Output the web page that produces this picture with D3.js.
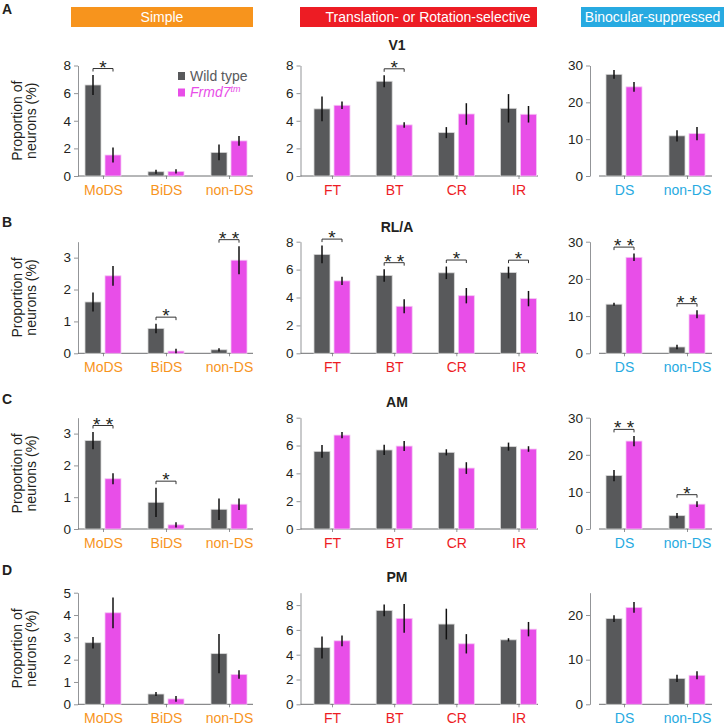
<!DOCTYPE html>
<html>
<head>
<meta charset="utf-8">
<script src="https://cdn.jsdelivr.net/npm/d3@7"></script>
<style>
  body { margin: 0; background: #fff; }
  svg text { font-family: "Liberation Sans", Arial, Helvetica, sans-serif; }
</style>
</head>
<body>
<div id="chart"></div>
<script>
// Categories
const simpleCats = ["MoDS", "BiDS", "non-DS"];
const transCats = ["FT", "BT", "CR", "IR"];
const binoCats = ["DS", "non-DS"];
const areas = ["V1", "RL/A", "AM", "PM"];
const letters = ["A", "B", "C", "D"];
const headers = ["Simple", "Translation- or Rotation-selective", "Binocular-suppressed"];

// Simple (rows: V1, RL/A, AM, PM)
const simpleWT = [[6.59, 0.31, 1.71], [1.61, 0.78, 0.11], [2.78, 0.84, 0.62], [2.76, 0.46, 2.27]];
const simpleWTErr = [[0.72, 0.14, 0.57], [0.3, 0.15, 0.05], [0.27, 0.46, 0.34], [0.26, 0.09, 0.88]];
const simpleMut = [[1.52, 0.33, 2.54], [2.43, 0.07, 2.92], [1.58, 0.13, 0.78], [4.1, 0.24, 1.34]];
const simpleMutErr = [[0.55, 0.15, 0.35], [0.31, 0.07, 0.44], [0.17, 0.08, 0.18], [0.69, 0.13, 0.19]];
const simpleSig = [["*", "", ""], ["", "*", "**"], ["**", "*", ""], ["", "", ""]];
const simpleMax = [8, 3.5, 3.5, 5];
const simpleTicks = [[0, 2, 4, 6, 8], [0, 1, 2, 3], [0, 1, 2, 3], [0, 1, 2, 3, 4, 5]];

// Translation- or Rotation-selective
const transWT = [[4.86, 6.86, 3.14, 4.9], [7.09, 5.58, 5.77, 5.79], [5.58, 5.68, 5.51, 5.92], [4.58, 7.57, 6.47, 5.2]];
const transWTErr = [[0.9, 0.43, 0.4, 1.03], [0.63, 0.45, 0.45, 0.42], [0.45, 0.37, 0.22, 0.29], [0.88, 0.47, 1.24, 0.13]];
const transMut = [[5.12, 3.7, 4.49, 4.47], [5.19, 3.37, 4.13, 3.92], [6.75, 5.96, 4.38, 5.75], [5.12, 6.93, 4.88, 6.06]];
const transMutErr = [[0.27, 0.2, 0.78, 0.6], [0.3, 0.5, 0.55, 0.55], [0.22, 0.36, 0.42, 0.2], [0.43, 1.15, 0.78, 0.58]];
const transSig = [["", "*", "", ""], ["*", "**", "*", "*"], ["", "", "", ""], ["", "", "", ""]];
const transMax = [8, 8, 8, 9];
const transTicks = [[0, 2, 4, 6, 8], [0, 2, 4, 6, 8], [0, 2, 4, 6, 8], [0, 2, 4, 6, 8]];

// Binocular-suppressed
const binoWT = [[27.6, 10.9], [13.2, 1.7], [14.4, 3.6], [19.2, 5.8]];
const binoWTErr = [[1.2, 1.5], [0.4, 0.6], [1.5, 0.7], [0.75, 0.8]];
const binoMut = [[24.2, 11.5], [25.8, 10.5], [23.7, 6.7], [21.7, 6.5]];
const binoMutErr = [[1.3, 1.8], [1.0, 1.1], [1.4, 0.8], [1.2, 0.9]];
const binoSig = [["", ""], ["**", "**"], ["**", "*"], ["", ""]];
const binoMax = [30, 30, 30, 25];
const binoTicks = [[0, 10, 20, 30], [0, 10, 20, 30], [0, 10, 20, 30], [0, 10, 20]];

/* -- Layout -- */
const width = 726, height = 728;
const wtColor = "#58595b";
const mutColor = "#e84ee8";
const axisColor = "#939598";
const textColor = "#231f20";
const barW = 16, barGap = 2;

const rowTop = [65.5, 241.7, 417.7, 592.7];
const rowBottom = [176, 353.3, 529, 704.3];
const titleY = [50, 232, 407, 582];
const letterY = [13.5, 227, 404, 575];

const cols = [
  {cats: simpleCats, wt: simpleWT, wtErr: simpleWTErr, mut: simpleMut, mutErr: simpleMutErr,
   sig: simpleSig, max: simpleMax, ticks: simpleTicks, color: "#f7941d",
   axisX: 78, baseX0: 78, baseX1: 253, c0: 103, c1: 229, hx0: 71, hx1: 253, textX: 162},
  {cats: transCats, wt: transWT, wtErr: transWTErr, mut: transMut, mutErr: transMutErr,
   sig: transSig, max: transMax, ticks: transTicks, color: "#ed1c24",
   axisX: 300.5, baseX0: 300.5, baseX1: 538, c0: 332, c1: 518.5, hx0: 300, hx1: 537, textX: 428},
  {cats: binoCats, wt: binoWT, wtErr: binoWTErr, mut: binoMut, mutErr: binoMutErr,
   sig: binoSig, max: binoMax, ticks: binoTicks, color: "#27aae1",
   axisX: 590, baseX0: 599, baseX1: 712, c0: 624, c1: 687, hx0: 581, hx1: 724, textX: 652.5}
];

const svg = d3.select("#chart").append("svg")
  .attr("width", width)
  .attr("height", height);

// Header boxes
cols.forEach((col, i) => {
  svg.append("rect")
    .attr("x", col.hx0).attr("y", 7)
    .attr("width", col.hx1 - col.hx0).attr("height", 20)
    .attr("fill", col.color);
  svg.append("text")
    .attr("x", col.textX).attr("y", 22)
    .attr("text-anchor", "middle")
    .attr("fill", "#fff")
    .style("font-size", "14px")
    .text(headers[i]);
});

// Panels
areas.forEach((area, r) => {
  svg.append("text")
    .attr("x", 2).attr("y", letterY[r])
    .style("font-size", "14px").style("font-weight", "bold")
    .attr("fill", textColor)
    .text(letters[r]);
  svg.append("text")
    .attr("x", 397).attr("y", titleY[r])
    .attr("text-anchor", "middle")
    .style("font-size", "14px").style("font-weight", "bold")
    .attr("fill", textColor)
    .text(area);
  cols.forEach((col, c) => drawPanel(col, r, c));
});

function drawPanel(col, r, c) {
  const g = svg.append("g");
  const x = d3.scalePoint().domain(col.cats).range([col.c0, col.c1]);
  const y = d3.scaleLinear().domain([0, col.max[r]]).range([rowBottom[r], rowTop[r]]);

  const data = col.cats.map((cat, i) => ({
    cat: cat,
    wt: col.wt[r][i], wtErr: col.wtErr[r][i],
    mut: col.mut[r][i], mutErr: col.mutErr[r][i],
    sig: col.sig[r][i]
  }));

  // y axis
  const yAxis = d3.axisLeft(y).tickValues(col.ticks[r]).tickFormat(d3.format("d"))
    .tickSize(4).tickSizeOuter(0).tickPadding(3);
  const gy = g.append("g")
    .attr("transform", `translate(${col.axisX},0)`)
    .call(yAxis);
  gy.select(".domain").attr("stroke", axisColor);
  gy.selectAll(".tick line").attr("stroke", axisColor);
  gy.selectAll(".tick text")
    .attr("fill", textColor)
    .style("font-size", "13.5px")
    .style("font-family", "'Liberation Sans', Arial, sans-serif");

  // x axis
  const xAxis = d3.axisBottom(x).tickSize(3).tickPadding(6);
  const gx = g.append("g")
    .attr("transform", `translate(0,${rowBottom[r]})`)
    .call(xAxis);
  gx.select(".domain").remove();
  gx.selectAll(".tick line").attr("stroke", axisColor);
  gx.selectAll(".tick text")
    .attr("fill", col.color)
    .style("font-size", "14px")
    .style("font-family", "'Liberation Sans', Arial, sans-serif");
  g.append("line")
    .attr("x1", col.baseX0).attr("x2", col.baseX1)
    .attr("y1", rowBottom[r]).attr("y2", rowBottom[r])
    .attr("stroke", "#6d6e71");

  // bars
  const wtX = d => x(d.cat) - barGap - barW;
  const mutX = d => x(d.cat) + barGap;

  g.selectAll(".wt").data(data).enter().append("rect")
    .attr("class", "wt")
    .attr("x", wtX)
    .attr("y", d => y(d.wt))
    .attr("width", barW)
    .attr("height", d => y(0) - y(d.wt))
    .attr("fill", wtColor)
    .attr("stroke", "#d8d8d8").attr("stroke-width", 0.8);

  g.selectAll(".mut").data(data).enter().append("rect")
    .attr("class", "mut")
    .attr("x", mutX)
    .attr("y", d => y(d.mut))
    .attr("width", barW)
    .attr("height", d => y(0) - y(d.mut))
    .attr("fill", mutColor)
    .attr("stroke", "#f4c8f4").attr("stroke-width", 0.8);

  // error bars
  g.selectAll(".wt-err").data(data).enter().append("line")
    .attr("x1", d => wtX(d) + barW / 2).attr("x2", d => wtX(d) + barW / 2)
    .attr("y1", d => y(d.wt - d.wtErr)).attr("y2", d => y(d.wt + d.wtErr))
    .attr("stroke", "#111").attr("stroke-width", 1.5);
  g.selectAll(".mut-err").data(data).enter().append("line")
    .attr("x1", d => mutX(d) + barW / 2).attr("x2", d => mutX(d) + barW / 2)
    .attr("y1", d => y(d.mut - d.mutErr)).attr("y2", d => y(d.mut + d.mutErr))
    .attr("stroke", "#111").attr("stroke-width", 1.5);

  // significance
  data.filter(d => d.sig).forEach(d => {
    const by = y(Math.max(d.wt + d.wtErr, d.mut + d.mutErr)) - 6.5;
    const xa = wtX(d) + barW / 2, xb = mutX(d) + barW / 2;
    g.append("path")
      .attr("d", `M${xa},${by + 3}V${by}H${xb}V${by + 3}`)
      .attr("fill", "none")
      .attr("stroke", "#333").attr("stroke-width", 1);
    g.append("text")
      .attr("x", (xa + xb) / 2).attr("y", by + 5)
      .attr("text-anchor", "middle")
      .attr("fill", textColor)
      .style("font-size", "19px")
      .text(d.sig === "**" ? "* *" : "*");
  });

  // y label and legend for the first column
  if (c === 0) {
    const cy = (rowTop[r] + rowBottom[r]) / 2;
    const lab = svg.append("text")
      .attr("transform", `translate(21.5,${cy}) rotate(-90)`)
      .attr("text-anchor", "middle")
      .attr("fill", textColor)
      .style("font-size", "14px");
    lab.append("tspan").attr("x", 0).attr("y", 0).text("Proportion of");
    lab.append("tspan").attr("x", 0).attr("y", 14.5).text("neurons (%)");

    if (r === 0) {
      const lg = svg.append("g").attr("transform", "translate(178,72)");
      lg.append("rect").attr("width", 7).attr("height", 8).attr("fill", wtColor);
      lg.append("text").attr("x", 12).attr("y", 8.5)
        .attr("fill", wtColor).style("font-size", "14px").text("Wild type");
      lg.append("rect").attr("y", 16.5).attr("width", 7).attr("height", 8).attr("fill", mutColor);
      const t = lg.append("text").attr("x", 12).attr("y", 25)
        .attr("fill", mutColor).style("font-size", "14px").style("font-style", "italic");
      t.append("tspan").text("Frmd7");
      t.append("tspan").attr("dy", -5).style("font-size", "9px").text("tm");
    }
  }
}
</script>
</body>
</html>
